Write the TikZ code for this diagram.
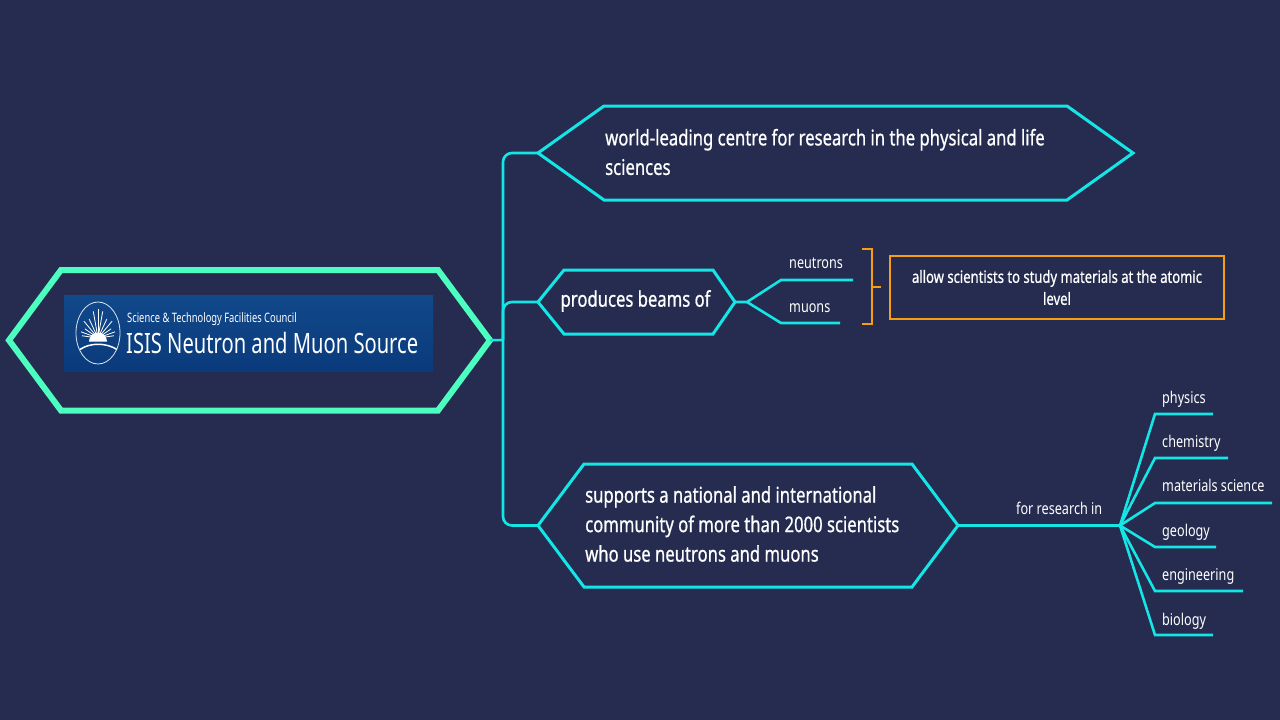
\documentclass[tikz,border=0pt]{standalone}
\usepackage{fontspec}
\setmainfont{Noto Sans}[FakeStretch=0.78]
\newfontfamily\heavyfont{Noto Sans}[FakeStretch=0.775,FakeBold=0.7]
\newfontfamily\logofont{Noto Sans}[FakeStretch=0.72]
\definecolor{bgnavy}{HTML}{252C50}
\definecolor{mainmint}{HTML}{4CFFC0}
\definecolor{linecyan}{HTML}{14E6E6}
\definecolor{noteorange}{HTML}{F79E12}
\definecolor{logotop}{HTML}{11498A}
\definecolor{logobot}{HTML}{0A3A7C}
\tikzset{
  hexline/.style={draw=linecyan, line width=3pt, miter limit=10},
  hextext/.style={text=white, inner sep=0pt, align=left, anchor=west, font=\fontsize{21.5}{29.5}\selectfont\heavyfont},
  branch/.style={draw=linecyan, line width=2.6pt},
  twig/.style={text=white, font=\fontsize{16.2}{20}\selectfont, inner sep=0pt, anchor=base west},
  logotext/.style={text=white, inner sep=0pt, anchor=base west},
}
% name, outer left, inner left, inner right, outer right, top, bottom, style
\newcommand{\hexshape}[8]{
  \coordinate (#1 west) at (#2,{(#6+#7)/2});
  \coordinate (#1 east) at (#5,{(#6+#7)/2});
  \draw [#8] (#1 west) -- (#3,#6) -- (#4,#6) -- (#1 east) -- (#4,#7) -- (#3,#7) -- cycle;
}
\begin{document}
\begin{tikzpicture}[x=1pt,y=-1pt]
    \fill[bgnavy] (0,0) rectangle (1280,720);
    \useasboundingbox (0,0) rectangle (1280,720);

    % central topic and logo
    \hexshape{isis}{9}{61}{438}{490}{270}{410.5}{hexline, draw=mainmint, line width=6pt}
    \node [minimum width=369pt, minimum height=76pt, inner sep=0pt, top color=logotop, bottom color=logobot] (logo) at (248.5,333) {};
    \node [logotext, font=\fontsize{13}{14}\selectfont\logofont] (stfc) at (127,322.5) {Science \& Technology Facilities Council};
    \node [logotext, font=\fontsize{28}{30}\selectfont\logofont] (source) at (126,353.5) {ISIS Neutron and Muon Source};
    \draw [white!85!logotop, line width=0.8pt] (98,333) ellipse [x radius=22, y radius=31];
    \foreach \ang/\len in {100/27,90/29,80/27,115/21,65/21,130/22,50/22,145/16,35/16,160/18,20/18,172/16,8/16}
      \draw [white, line width=0.8pt] (98,338) -- ++(-\ang:\len);
    \fill [white] (89,341.5) arc (180:360:9) -- cycle;
    \draw [white, line width=1.5pt] (80,349.5) .. controls (90,342.5) and (106,342.5) .. (117,349.5);

    % first level
    \hexshape{centre}{538}{604}{1067}{1133}{106}{200}{hexline}
    \node [hextext] (centretext) at (605,152)
      {world-leading centre for research in the physical and life\\sciences};
    \hexshape{beams}{538}{564}{713}{735}{270}{334}{hexline}
    \node [hextext, anchor=center] (beamstext) at (635.5,301) {produces beams of};
    \hexshape{community}{538}{584}{912}{958}{464}{587}{hexline}
    \node [hextext] (communitytext) at (585,524)
      {supports a national and international\\community of more than 2000 scientists\\who use neutrons and muons};

    \coordinate (trunk) at (503,340);
    \draw [branch] (isis east) -- (trunk);
    \draw [branch, rounded corners=9pt] (trunk) |- (centre west);
    \draw [branch, rounded corners=9pt] (trunk) |- (beams west);
    \draw [branch, rounded corners=9pt] (trunk) |- (community west);

    % beams
    \coordinate (fork) at (747,302);
    \coordinate (nelbow) at (781,280);
    \coordinate (nend) at (853,280);
    \coordinate (melbow) at (781,323);
    \coordinate (mend) at (840,323);
    \node [twig] (neutrons) at (789,268) {neutrons};
    \node [twig] (muons) at (789,312) {muons};
    \draw [branch] (beams east) -- (fork) -- (nelbow) -- (nend);
    \draw [branch] (fork) -- (melbow) -- (mend);

    % note
    \node [draw=noteorange, line width=2.4pt, minimum width=334pt, minimum height=63pt,
      align=center, inner sep=0pt, text=white, font=\fontsize{16.85}{22}\selectfont\heavyfont] (note) at (1057,287.5)
      {allow scientists to study materials at the atomic\\level};
    \coordinate (brace) at (872,287);
    \draw [noteorange, line width=2.4pt] (862,249) -| (brace) |- (862,324);
    \draw [noteorange, line width=2.4pt] (brace) -- (881,287);

    % research fields
    \coordinate (fields) at (1120,525.5);
    \draw [branch] (community east) -- (fields);
    \node [twig] (research) at (1016,514) {for research in};
    \foreach \name/\txt/\base/\y/\xend in {physics/physics/403/414/1213, chemistry/chemistry/447/458/1228,
        materials/materials science/491.5/503/1272, geology/geology/536.5/547/1216,
        engineering/engineering/580.5/591/1243, biology/biology/625/635/1213} {
      \node [twig] (\name) at (1162,\base) {\txt};
      \coordinate (\name a) at (1155,\y);
      \coordinate (\name b) at (\xend,\y);
      \draw [branch] (fields) -- (\name a) -- (\name b);
    }
\end{tikzpicture}
\end{document}
